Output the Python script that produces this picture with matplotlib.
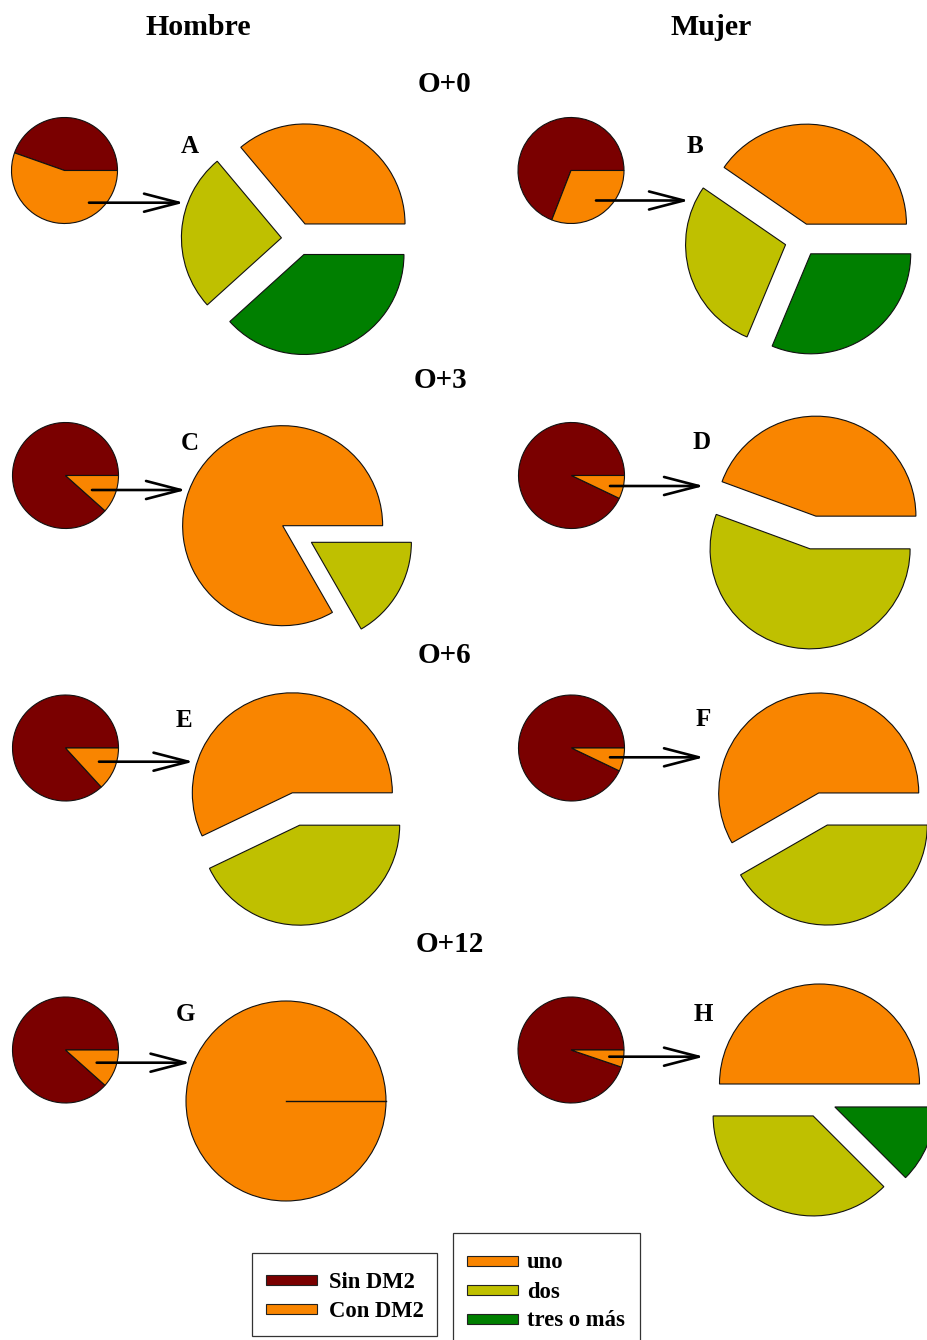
import matplotlib
matplotlib.use("Agg")
import matplotlib.pyplot as plt
from matplotlib.patches import Rectangle

# ---- data -------------------------------------------------------------
panel_labels = ["A", "B", "C", "D", "E", "F", "G", "H"]
sexo = ["Hombre", "Mujer"]
periodos = ["O+0", "O+3", "O+6", "O+12"]

estado_labels = ["Sin DM2", "Con DM2"]
sin_dm2 = [44.6, 69.1, 88.4, 92.9, 86.8, 92.9, 88.4, 94.8]
con_dm2 = [55.4, 30.9, 11.6, 7.1, 13.2, 7.1, 11.6, 5.2]

nivel_labels = ["uno", "dos", "tres o más"]
uno = [36.1, 40.4, 83.3, 44.4, 57.1, 58.3, 100.0, 50.0]
dos = [25.6, 28.3, 16.7, 55.6, 42.9, 41.7, 0.0, 37.5]
tres = [38.3, 31.3, 0.0, 0.0, 0.0, 0.0, 0.0, 12.5]

COL_ESTADO = ["#7A0000", "#F98500"]
COL_NIVEL = ["#F98500", "#BFC000", "#007F00"]

# ---- layout (pixel coordinates, y measured from the top) ---------------
W, H = 928, 1340
R_SMALL, R_LARGE = 53, 100
EXPLODE = 16.6

small_centers = [(64.5, 170.5), (571, 170.5), (65.5, 475.5), (571.5, 475.5),
                 (65.5, 748), (571.5, 748), (65.5, 1050), (571, 1050)]
large_centers = [(298, 239), (801.5, 240), (297, 534), (813, 532.5),
                 (296, 809), (823, 809), (286, 1101), (819.5, 1100.6)]
arrow_xy = [((89, 202.7), (184, 202.7)), ((596, 200.5), (689, 200.5)),
            ((92, 490), (186, 490)), ((610, 486), (704, 486)),
            ((99, 761.7), (193.5, 761.7)), ((610, 757.3), (704, 757.3)),
            ((96.7, 1062.7), (190.5, 1062.7)), ((609.3, 1056.7), (704, 1056.7))]
letter_xy = [(189.5, 153.3), (694.8, 153.3), (189.7, 450), (701.3, 449.3),
             (184.2, 726.7), (703.3, 725.7), (185.5, 1020.7), (703.8, 1020.7)]
sexo_xy = [(198.5, 35), (711.5, 35)]
periodo_xy = [(444.5, 92.5), (440.8, 388), (444.5, 663), (449.7, 952.3)]

SERIF = dict(family="Liberation Serif", weight="bold")
EDGE = dict(edgecolor="#111111", linewidth=0.8)


def fy(y):
    return H - y


fig = plt.figure(figsize=(W / 100, H / 100), dpi=100)
ax = fig.add_axes([0, 0, 1, 1])

for i, lab in enumerate(panel_labels):
    # small pie: share of people with / without DM2
    sx, sy = small_centers[i]
    ax.pie([sin_dm2[i], con_dm2[i]], colors=COL_ESTADO, startangle=0,
           counterclock=True, center=(sx, fy(sy)), radius=R_SMALL,
           wedgeprops=EDGE)

    # large exploded pie: breakdown of the DM2 group
    vals, cols = [], []
    for v, c in zip([uno[i], dos[i], tres[i]], COL_NIVEL):
        if v > 0:
            vals.append(v)
            cols.append(c)
    lx, ly = large_centers[i]
    expl = [EXPLODE] * len(vals) if len(vals) > 1 else [0.0]
    ax.pie(vals, colors=cols, startangle=0, counterclock=True,
           center=(lx, fy(ly)), radius=R_LARGE, explode=expl,
           wedgeprops=EDGE)
    if len(vals) == 1:
        ax.plot([lx, lx + R_LARGE], [fy(ly), fy(ly)], color="#111111", lw=1.0)

    # arrow from the DM2 slice to its breakdown
    (x0, y0), (x1, y1) = arrow_xy[i]
    ax.annotate("", xy=(x1, fy(y1)), xytext=(x0, fy(y0)),
                arrowprops=dict(arrowstyle="->,head_length=2.5,head_width=0.65",
                                lw=1.9, color="black", shrinkA=0, shrinkB=0))

    tx, ty = letter_xy[i]
    ax.text(tx, fy(ty), lab, ha="center", va="baseline", fontsize=18, **SERIF)

for s, (x, y) in zip(sexo, sexo_xy):
    ax.text(x, fy(y), s, ha="center", va="baseline", fontsize=21.5, **SERIF)
for p, (x, y) in zip(periodos, periodo_xy):
    ax.text(x, fy(y), p, ha="center", va="baseline", fontsize=21, **SERIF)

# ---- legends -----------------------------------------------------------
def legend_box(x0, y0, x1, y1, labels, colors, rows_y, key_x, text_x):
    ax.add_patch(Rectangle((x0, fy(y1)), x1 - x0, y1 - y0, fill=False,
                           edgecolor="#333333", linewidth=0.9, clip_on=False))
    for lab, col, ry in zip(labels, colors, rows_y):
        ax.add_patch(Rectangle((key_x[0], fy(ry) - 5), key_x[1] - key_x[0], 10,
                               facecolor=col, edgecolor="#222222", linewidth=0.8))
        ax.text(text_x, fy(ry), lab, ha="left", va="center_baseline",
                fontsize=16.3, **SERIF)

legend_box(252.3, 1252.7, 437.3, 1336, estado_labels, COL_ESTADO,
           [1280, 1309], (266, 317), 329)
legend_box(453.5, 1233.3, 640, 1345, nivel_labels, COL_NIVEL,
           [1260.5, 1289.5, 1318.5], (467, 518), 527)

ax.set_xlim(0, W)
ax.set_ylim(0, H)
ax.set_aspect("auto")
ax.axis("off")

fig.savefig("out.png", dpi=100, facecolor="white")
